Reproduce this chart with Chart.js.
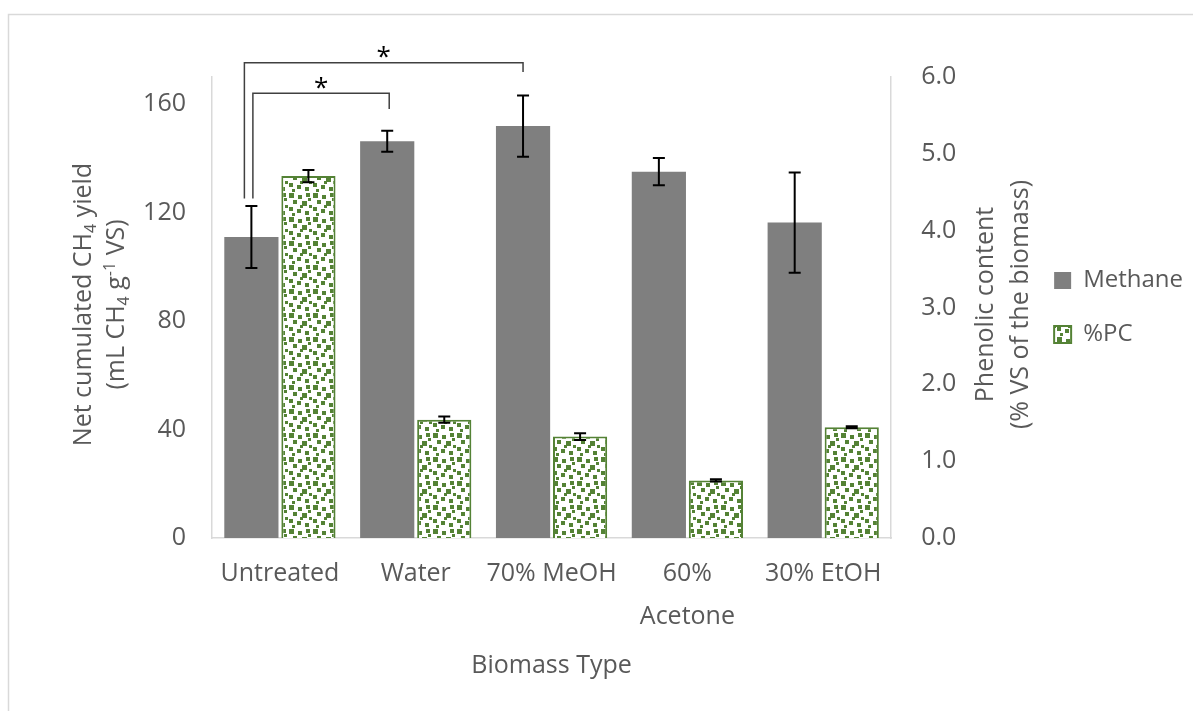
<!DOCTYPE html>
<html>
<head>
<meta charset="utf-8">
<script src="https://cdn.jsdelivr.net/npm/chart.js@4/dist/chart.umd.min.js"></script>
<style>
  html, body { margin: 0; padding: 0; background: #ffffff; }
  #wrap { width: 1193px; height: 711px; position: relative; }
</style>
</head>
<body>
<div id="wrap"><canvas id="chart" width="1193" height="711"></canvas></div>
<script>
// ---- data ----
const categories = ['Untreated', 'Water', '70% MeOH', ['60%', 'Acetone'], '30% EtOH'];
const methaneYield = [111.0, 146.3, 151.9, 135.1, 116.3];   // mL CH4 / g VS
const methaneErr = [11.4, 3.9, 11.3, 5.0, 18.5];
const phenolicContent = [4.71, 1.54, 1.32, 0.75, 1.44];     // % of VS
const phenolicErr = [0.08, 0.04, 0.044, 0.015, 0.013];
const leftTicks = [0, 40, 80, 120, 160];
const rightTicks = [0, 1, 2, 3, 4, 5, 6];

// significance brackets (category indices on the methane series, heights in mL CH4 / g VS)
const sigFrom = [0, 0];
const sigTo = [2, 1];
const sigTop = [175.3, 164.0];
const sigLeftEnd = [125.2, 125.2];
const sigRightEnd = [171.8, 158.2];
const sigLabel = ['*', '*'];

const FONT = '"Open Sans", "DejaVu Sans", sans-serif';
const TEXT = '#595959';
const GREEN = '#548235';

// confetti fill for the phenolic-content bars
function confettiPattern() {
  const t = document.createElement('canvas');
  t.width = 24; t.height = 24;
  const g = t.getContext('2d');
  g.fillStyle = '#ffffff';
  g.fillRect(0, 0, 24, 24);
  g.fillStyle = GREEN;
  [[1, 1, 5], [10, 3, 4], [18, 1, 4], [5, 8, 4], [14, 9, 5], [21, 13, 3],
   [1, 15, 4], [9, 17, 4], [17, 19, 4], [4, 21, 3], [12, 13, 3], [20, 6, 3]]
    .forEach(([x, y, s]) => g.fillRect(x, y, s, s));
  return g.createPattern(t, 'repeat');
}

// light frame around the figure
const frame = {
  id: 'frame',
  beforeDraw(chart) {
    const ctx = chart.ctx;
    ctx.save();
    ctx.strokeStyle = '#d9d9d9';
    ctx.lineWidth = 1.5;
    ctx.strokeRect(8.5, 14.5, 1400, 1000);
    ctx.restore();
  }
};

// vertical error bars with caps
const errorBars = {
  id: 'errorBars',
  afterDatasetsDraw(chart) {
    const ctx = chart.ctx;
    ctx.save();
    ctx.strokeStyle = '#000000';
    ctx.lineWidth = 2;
    chart.data.datasets.forEach((ds, di) => {
      const meta = chart.getDatasetMeta(di);
      const sc = chart.scales[ds.yAxisID];
      meta.data.forEach((bar, i) => {
        const v = ds.data[i], e = ds.errors[i];
        const yT = sc.getPixelForValue(v + e);
        const yB = sc.getPixelForValue(v - e);
        const x = bar.x, cap = 6;
        ctx.beginPath();
        ctx.moveTo(x, yT); ctx.lineTo(x, yB);
        ctx.moveTo(x - cap, yT); ctx.lineTo(x + cap, yT);
        ctx.moveTo(x - cap, yB); ctx.lineTo(x + cap, yB);
        ctx.stroke();
      });
    });
    ctx.restore();
  }
};

// significance brackets with asterisks
const brackets = {
  id: 'brackets',
  afterDraw(chart, args, opts) {
    const ctx = chart.ctx;
    const meta = chart.getDatasetMeta(0);
    const y = chart.scales.y;
    ctx.save();
    ctx.strokeStyle = '#404040';
    ctx.lineWidth = 1.5;
    sigFrom.forEach((from, k) => {
      const x1 = meta.data[from].x + opts.leftShift[k];
      const x2 = meta.data[sigTo[k]].x + opts.rightShift[k];
      const yTop = y.getPixelForValue(sigTop[k]);
      ctx.beginPath();
      ctx.moveTo(x1, y.getPixelForValue(sigLeftEnd[k]));
      ctx.lineTo(x1, yTop);
      ctx.lineTo(x2, yTop);
      ctx.lineTo(x2, y.getPixelForValue(sigRightEnd[k]));
      ctx.stroke();
      ctx.fillStyle = '#000000';
      ctx.font = '26px ' + FONT;
      ctx.textAlign = 'center';
      ctx.textBaseline = 'middle';
      ctx.fillText(sigLabel[k], (x1 + x2) / 2, yTop - 5);
    });
    ctx.restore();
  }
};

// rotated y-axis titles with sub/superscripts
function drawRuns(ctx, runs, baseX, centerY, size) {
  const small = Math.round(size * 0.62);
  ctx.save();
  ctx.translate(baseX, centerY);
  ctx.rotate(-Math.PI / 2);
  ctx.fillStyle = TEXT;
  ctx.textAlign = 'left';
  ctx.textBaseline = 'alphabetic';
  let total = 0;
  const widths = runs.map(([t, k]) => {
    ctx.font = (k ? small : size) + 'px ' + FONT;
    const w = ctx.measureText(t).width;
    total += w;
    return w;
  });
  let x = -total / 2;
  runs.forEach(([t, k], i) => {
    ctx.font = (k ? small : size) + 'px ' + FONT;
    const dy = k === 1 ? size * 0.2 : (k === 2 ? -size * 0.38 : 0);
    ctx.fillText(t, x, dy);
    x += widths[i];
  });
  ctx.restore();
}

const axisTitles = {
  id: 'axisTitles',
  afterDraw(chart) {
    const ctx = chart.ctx;
    const area = chart.chartArea;
    const cy = (area.top + area.bottom) / 2 - 3;
    drawRuns(ctx, [['Net cumulated CH', 0], ['4', 1], [' yield', 0]], 91, cy, 25);
    drawRuns(ctx, [['(mL CH', 0], ['4', 1], [' g', 0], ['-1', 2], [' VS)', 0]], 124, cy, 25);
    drawRuns(ctx, [['Phenolic content', 0]], 993, cy, 25);
    drawRuns(ctx, [['(% VS of the biomass)', 0]], 1028, cy, 25);
  }
};

function build() {
  Chart.defaults.font.family = FONT;
  Chart.defaults.font.size = 25;
  Chart.defaults.color = TEXT;

  new Chart(document.getElementById('chart'), {
    type: 'bar',
    data: {
      labels: categories,
      datasets: [
        {
          label: 'Methane',
          data: methaneYield,
          errors: methaneErr,
          yAxisID: 'y',
          backgroundColor: '#7f7f7f',
          borderWidth: 0
        },
        {
          label: '%PC',
          data: phenolicContent,
          errors: phenolicErr,
          yAxisID: 'y1',
          backgroundColor: confettiPattern(),
          borderColor: GREEN,
          borderWidth: 2
        }
      ]
    },
    options: {
      responsive: false,
      animation: false,
      events: [],
      categoryPercentage: 0.84,
      barPercentage: 0.95,
      layout: { padding: { left: 0, top: 77, right: 0, bottom: 26 } },
      plugins: {
        legend: {
          position: 'right',
          align: 'center',
          fullSize: false,
          labels: { boxWidth: 17, boxHeight: 17, padding: 30, color: TEXT, font: { size: 24 } }
        },
        tooltip: { enabled: false },
        brackets: { leftShift: [-7, 1.5], rightShift: [0, 2] }
      },
      scales: {
        x: {
          grid: { display: false, drawTicks: false },
          border: { display: true, color: '#d9d9d9', width: 1.5 },
          ticks: { padding: 15, color: TEXT, font: { size: 25, lineHeight: 1.7 }, maxRotation: 0, autoSkip: false },
          title: { display: true, text: 'Biomass Type', color: TEXT, font: { size: 25 } },
          afterFit(s) { s.height = 147; }
        },
        y: {
          position: 'left',
          min: 0,
          max: 170,
          grid: { display: false, drawTicks: false },
          border: { display: true, color: '#d9d9d9', width: 1.5 },
          ticks: { padding: 26, color: TEXT, font: { size: 25 } },
          afterBuildTicks(s) { s.ticks = leftTicks.map(v => ({ value: v })); },
          afterFit(s) { s.width = 212; }
        },
        y1: {
          position: 'right',
          min: 0,
          max: 6,
          grid: { display: false, drawTicks: false },
          border: { display: true, color: '#d9d9d9', width: 1.5 },
          ticks: { padding: 30, color: TEXT, font: { size: 25 }, callback: v => Number(v).toFixed(1) },
          afterBuildTicks(s) { s.ticks = rightTicks.map(v => ({ value: v })); },
          afterFit(s) { s.width = 133; }
        }
      }
    },
    plugins: [frame, errorBars, brackets, axisTitles]
  });
}

if (document.fonts && document.fonts.load) {
  document.fonts.load('25px "Open Sans"').then(build, build);
} else {
  build();
}
</script>
</body>
</html>
